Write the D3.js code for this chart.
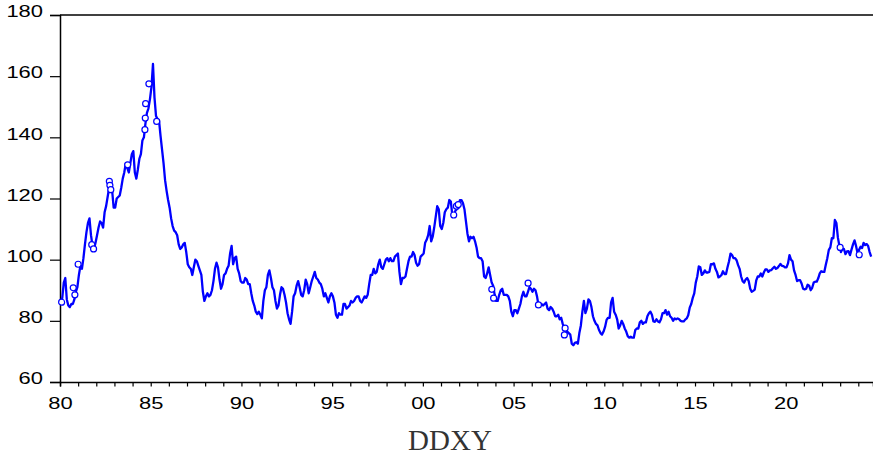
<!DOCTYPE html>
<html>
<head>
<meta charset="utf-8">
<script src="https://cdn.jsdelivr.net/npm/d3@7"></script>
<style>
  body { margin: 0; background: #fff; }
</style>
</head>
<body>
<svg id="drawing_region"></svg>
<script>
// monthly DXY values, one array per decade (starts Jan of first year)
const dxy1980s = [
  86.0, 87.5, 92.5, 94.0, 87.0, 85.0, 84.5, 85.5, 85.5, 87.0, 89.5, 91.0,
  95.0, 98.0, 97.0, 100.5, 105.0, 109.0, 112.0, 113.5, 108.0, 104.5, 103.5, 105.5,
  108.0, 110.5, 112.5, 112.0, 110.5, 115.5, 117.5, 120.5, 123.5, 125.0, 122.5, 117.0,
  117.0, 120.0, 120.5, 121.0, 123.5, 126.5, 128.5, 131.5, 130.0, 128.5, 131.5, 134.5,
  135.5, 128.5, 126.5, 129.5, 133.0, 134.5, 139.0, 140.0, 144.5, 148.0, 149.5, 152.5,
  156.5, 164.0, 153.0, 147.0, 146.0, 145.5, 140.5, 136.0, 131.5, 126.0, 122.5, 119.5,
  117.0, 113.5, 111.0, 109.5, 109.0, 108.0, 105.0, 103.5, 104.0, 105.0, 105.5, 102.5,
  98.5, 97.5, 97.0, 95.0, 97.5, 100.0, 99.5, 98.0, 96.5, 95.0, 89.5, 86.5,
  88.0, 89.0, 88.0, 88.5, 90.0, 93.0, 97.0, 99.0, 97.5, 93.5, 90.5, 92.0,
  95.0, 95.5, 97.0, 98.0, 102.0, 104.5, 98.5, 100.5, 101.0, 97.0, 95.5, 93.0
];
const dxy1990s = [
  92.5, 92.5, 94.0, 93.5, 92.0, 92.0, 89.0, 86.5, 85.0, 83.0, 82.2, 83.0,
  82.0, 80.8, 86.5, 90.0, 91.0, 95.0, 96.5, 94.0, 91.0, 90.0, 86.5, 84.0,
  85.0, 88.5, 91.0, 90.5, 88.5, 86.0, 82.5, 80.5, 79.0, 83.0, 88.0, 89.0,
  91.5, 93.0, 91.0, 88.5, 88.0, 90.0, 93.5, 92.0, 89.0, 91.0, 93.0, 94.5,
  96.0, 94.0, 93.5, 92.5, 92.0, 90.5, 88.0, 89.0, 87.5, 86.0, 88.0, 89.0,
  88.0, 86.0, 82.0, 81.0, 82.5, 82.0, 82.0, 85.5, 85.5, 84.0, 84.5, 85.0,
  86.5, 86.0, 86.5, 87.5, 88.0, 88.0, 86.5, 86.0, 87.0, 88.0, 87.5, 88.5,
  92.0, 95.0, 95.0, 97.0, 95.5, 96.0, 98.5, 100.0, 97.5, 97.0, 98.5, 100.0,
  100.5, 99.5, 100.5, 99.5, 99.5, 101.0, 101.5, 102.0, 96.0, 92.0, 94.0, 94.0,
  94.5, 97.0, 99.5, 101.0, 101.0, 102.5, 101.5, 99.0, 98.0, 98.5, 101.0, 101.5
];
const dxy2000s = [
  102.0, 105.5, 106.5, 108.0, 111.0, 106.0, 107.5, 110.5, 114.0, 117.5, 116.5, 111.0,
  110.0, 112.0, 115.5, 116.5, 117.0, 119.5, 119.0, 114.5, 114.0, 116.0, 116.5, 117.0,
  119.5, 119.5, 118.5, 116.5, 112.5, 108.5, 106.0, 107.5, 107.0, 107.5, 106.0, 104.0,
  101.0, 100.5, 100.5, 99.5, 94.5, 94.0, 95.5, 97.5, 95.0, 92.5, 91.5, 88.5,
  86.5, 86.5, 88.5, 90.0, 90.5, 88.5, 88.5, 88.5, 88.0, 86.5, 83.0, 81.5,
  83.5, 83.5, 82.5, 84.0, 85.5, 88.0, 89.5, 88.0, 88.0, 89.5, 91.0, 90.5,
  89.5, 90.5, 90.0, 88.0, 85.0, 85.5, 85.5, 85.0, 85.5, 86.0, 84.0, 83.5,
  84.5, 84.0, 83.0, 81.5, 81.5, 82.0, 80.5, 81.0, 79.0, 77.5, 75.8, 76.5,
  76.0, 75.5, 72.5, 72.0, 72.8, 73.0, 72.5, 76.0, 78.5, 83.0, 86.5, 82.5,
  84.0, 87.0, 86.5, 84.5, 81.5, 80.0, 79.0, 78.5, 77.0, 76.0, 75.5, 76.5
];
const dxy2010s = [
  78.0, 80.3, 81.0, 81.0, 86.0, 87.5, 83.0, 82.0, 80.5, 77.5, 78.5, 80.0,
  79.0, 77.5, 76.5, 75.0, 74.5, 74.8, 74.5, 74.5, 77.0, 77.5, 77.5, 79.5,
  80.0, 79.0, 79.5, 79.5, 81.5, 82.5, 83.0, 82.0, 79.8, 79.7, 80.5, 79.8,
  79.5, 80.5, 82.5, 82.5, 83.5, 82.0, 83.0, 81.5, 81.0, 80.0, 80.8, 80.5,
  80.8, 80.5, 80.0, 79.8, 79.8, 80.4, 80.8, 81.8, 84.3, 85.5, 87.5, 89.0,
  92.5, 94.5, 97.8, 97.5, 95.0, 95.5, 96.5, 95.8, 95.8, 96.0, 98.5, 98.5,
  98.8, 97.0, 96.0, 94.2, 94.5, 95.0, 96.2, 95.3, 95.3, 97.5, 99.5, 102.0,
  101.5, 100.5, 100.5, 99.8, 98.2, 97.0, 94.5, 93.0, 92.5, 93.5, 94.0, 93.0,
  90.5, 89.5, 89.8, 90.2, 93.2, 94.5, 94.5, 95.5, 94.5, 95.8, 96.8, 96.8,
  96.0, 96.5, 96.6, 97.2, 97.7, 97.0, 97.3, 97.9, 98.6, 98.0, 97.9, 97.5
];
const dxy2020s = [
  97.5, 98.8, 101.5, 100.0, 99.5, 96.5, 95.0, 93.0, 93.3, 93.3, 92.2, 90.5,
  90.3, 90.5, 91.8, 91.5, 90.0, 90.8, 92.5, 92.8, 92.8, 93.9, 95.5, 96.2,
  96.0, 96.0, 98.3, 100.5, 103.2, 104.0, 107.0, 107.0, 113.0, 112.0, 107.2, 104.5,
  102.5, 103.5, 103.5, 101.8, 102.7, 102.8, 101.5, 103.3, 105.0, 106.3, 104.5, 102.2,
  103.2, 104.2, 103.8, 105.5, 104.8, 105.1, 104.5, 102.5, 101.0
];
const decadeStarts = [1980, 1990, 2000, 2010, 2020];

// isolated observations drawn as open circles
const markerYears  = [1980.09, 1980.73, 1980.82, 1981.0, 1981.75, 1981.85, 1982.72, 1982.75, 1982.8, 1983.73,
                      1984.68, 1984.7, 1984.72, 1984.9, 1985.33, 2001.7, 2001.85, 2001.95,
                      2003.8, 2003.9, 2005.8, 2006.37, 2007.8, 2007.84, 2023.0, 2024.05];
const markerValues = [86.1, 90.8, 88.5, 98.5, 104.9, 103.5, 125.6, 124.3, 122.9, 131.0,
                      142.5, 146.3, 151.0, 157.5, 145.2, 114.6, 117.5, 118.0,
                      90.3, 87.4, 92.3, 85.2, 75.4, 77.6, 104.0, 101.6];

const yTicks = [60, 80, 100, 120, 140, 160, 180];
const xTickYears = d3.range(1980, 2025);
const titleText = "DDXY";

class LineChart {

    constructor( config, data, markers ) {
        this.config = {
            parent: config.parent,
            width: config.width || 873,
            height: config.height || 458,
            margin: config.margin || {top:15, right:0, bottom:76, left:60}
        };
        this.data = data;
        this.markers = markers;
        this.init();
    }

    init() {
        let self = this;

        self.svg = d3.select( self.config.parent )
            .attr('width', self.config.width)
            .attr('height', self.config.height);

        self.chart = self.svg.append('g')
            .attr('transform', `translate(${self.config.margin.left}, ${self.config.margin.top})`);

        self.inner_width = self.config.width - self.config.margin.left - self.config.margin.right;
        self.inner_height = self.config.height - self.config.margin.top - self.config.margin.bottom;

        self.xscale = d3.scaleLinear()
            .domain( [1980, 2024.81] )
            .range( [0, self.inner_width] );

        self.yscale = d3.scaleLinear()
            .domain( [60, 180] )
            .range( [self.inner_height, 0] );

        self.xaxis = d3.axisBottom( self.xscale )
            .tickValues( xTickYears )
            .tickSize( 4.5 )
            .tickPadding( 10 )
            .tickFormat( d => d % 5 === 0 ? String(d % 100).padStart(2, '0') : '' );

        self.yaxis = d3.axisLeft( self.yscale )
            .tickValues( yTicks )
            .tickSize( 10 )
            .tickPadding( 7 );

        self.xaxis_group = self.chart.append('g')
            .attr('transform', `translate(0, ${self.inner_height})`);

        self.yaxis_group = self.chart.append('g');

        // top frame line
        self.chart.append('line')
            .attr('x1', 0).attr('x2', self.inner_width)
            .attr('y1', 0).attr('y2', 0)
            .attr('stroke', '#000')
            .attr('stroke-width', 1.5);

        self.svg.append('text')
            .attr('x', 450)
            .attr('y', 450)
            .attr('text-anchor', 'middle')
            .style('font-family', '"Liberation Serif", "Times New Roman", serif')
            .style('font-size', '29px')
            .attr('fill', '#333')
            .text( titleText );
    }

    update() {
        let self = this;
        self.line = d3.line()
            .x( d => self.xscale( d.t ) )
            .y( d => self.yscale( d.v ) );
        self.render();
    }

    render() {
        let self = this;

        self.chart.append('path')
            .datum( self.data )
            .attr('d', self.line)
            .attr('fill', 'none')
            .attr('stroke', '#0000ff')
            .attr('stroke-width', 2.3)
            .attr('stroke-linejoin', 'round');

        self.chart.selectAll('circle')
            .data( self.markers )
            .enter()
            .append('circle')
            .attr('cx', d => self.xscale( d.t ))
            .attr('cy', d => self.yscale( d.v ))
            .attr('r', 3)
            .attr('fill', '#fff')
            .attr('stroke', '#0000ff')
            .attr('stroke-width', 1.2);

        self.xaxis_group.call( self.xaxis );
        self.yaxis_group.call( self.yaxis );

        [self.xaxis_group, self.yaxis_group].forEach( g => {
            g.select('.domain').attr('stroke', '#000').attr('stroke-width', 1.5);
            g.selectAll('.tick line').attr('stroke', '#000').attr('stroke-width', 1.2);
            g.selectAll('.tick text')
                .attr('fill', '#000')
                .style('font-family', '"Liberation Sans", Arial, sans-serif')
                .style('font-size', '17px')
                .each( function() {
                    const n = this.textContent.length;
                    if (n > 0) {
                        d3.select(this)
                            .attr('textLength', n * 12.2)
                            .attr('lengthAdjust', 'spacingAndGlyphs');
                    }
                });
        });
        self.yaxis_group.selectAll('.tick text').attr('dy', '0.1em');
    }
}

const series = [];
[dxy1980s, dxy1990s, dxy2000s, dxy2010s, dxy2020s].forEach( (arr, i) => {
    arr.forEach( (v, m) => series.push({ t: decadeStarts[i] + (m + 0.5) / 12, v: v }) );
});
const markers = markerYears.map( (t, i) => ({ t: t, v: markerValues[i] }) );

const config = {
    parent: '#drawing_region',
    width: 873,
    height: 458,
    margin: {top:15, right:0, bottom:76, left:60}
};

const line_chart = new LineChart( config, series, markers );
line_chart.update();
</script>
</body>
</html>
